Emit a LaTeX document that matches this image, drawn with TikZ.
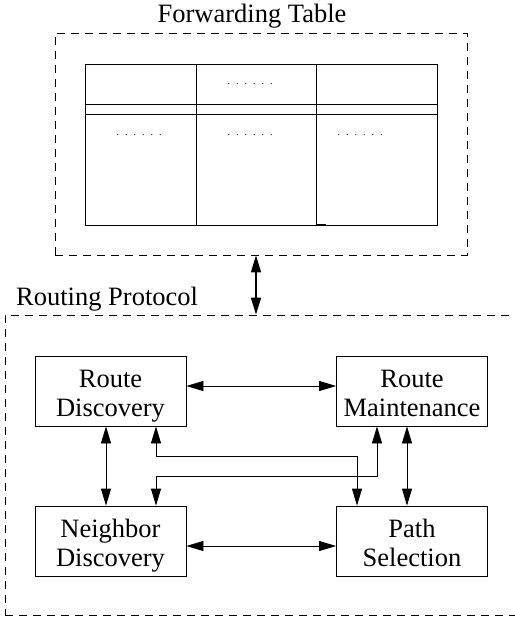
\documentclass[tikz,border=0pt]{standalone}
\usepackage{fontspec}
\setmainfont{Liberation Serif}
\usetikzlibrary{arrows.meta}
\newcommand\CellDots[3]{%
    \node[anchor=base] (#1) at (#2,#3) {\fontsize{10}{12}\selectfont .\kern6pt.\kern6pt.\kern6pt.\kern6pt.\kern6pt.};
}
% struts so that every box sets its two lines at the same height
\newcommand\TopLine{\rule{0pt}{26.8pt}}
\newcommand\LowLine{\rule[-5.8pt]{0pt}{5.8pt}}
\tikzset{
    block/.style={draw, line width=0.8pt, minimum width=151pt, minimum height=70pt,
        inner sep=0pt, align=center, font=\fontsize{26.5}{29}\selectfont},
    frame/.style={draw, line width=0.8pt, dash pattern=on 8pt off 6pt, inner sep=0pt},
    heading/.style={font=\fontsize{26.5}{29}\selectfont, inner sep=0pt},
    link/.style={line width=0.8pt, {Triangle[length=17pt,width=10pt]}-{Triangle[length=17pt,width=10pt]}}
}

\begin{document}
\begin{tikzpicture}[x=1pt,y=-1pt]
    \useasboundingbox (0,0) rectangle (514,621);
    % forwarding table
    \node[frame, minimum width=412pt, minimum height=222pt] (fwd) at (261,144) {};
    \node[heading, anchor=base] (fwdtitle) at (252,23) {Forwarding Table};
    \draw[line width=0.8pt] (85,64) rectangle (437,225);
    \foreach \x in {196,316}
        \draw[line width=0.8pt] (\x,64) -- (\x,225);
    \foreach \y in {104,114}
        \draw[line width=0.8pt] (85,\y) -- (437,\y);
    \draw[line width=1.2pt] (316,225) -- (326,225);
    \CellDots{dhead}{250}{84}
    \CellDots{dleft}{139}{135}
    \CellDots{dmid}{250}{135}
    \CellDots{dright}{360}{135}
    % routing protocol
    \node[frame, minimum width=529pt, minimum height=300pt] (rp) at (269.5,465) {};
    \node[heading, anchor=base west] (rptitle) at (16,305) {Routing Protocol};
    \draw[link, line width=1.6pt] ([xshift=-5pt]fwd.south) -- ([xshift=-5pt]fwd.south |- rp.north);
    \node[block] (rd) at (110.5,391) {\TopLine Route\\Discovery\LowLine};
    \node[block] (rm) at (412,391) {\TopLine Route\\Maintenance\LowLine};
    \node[block] (nd) at (110.5,541) {\TopLine Neighbor\\Discovery\LowLine};
    \node[block] (ps) at (412,541) {\TopLine Path\\Selection\LowLine};
    \draw[link] ([yshift=5pt]rd.east) -- ([yshift=5pt]rm.west);
    \draw[link] ([yshift=-5pt]nd.east) -- ([yshift=-5pt]ps.west);
    \draw[link] ([xshift=-4.5pt]rd.south) -- ([xshift=-4.5pt]nd.north);
    \draw[link] ([xshift=-5pt]rm.south) -- ([xshift=-5pt]ps.north);
    \draw[link] ([xshift=45.5pt]rd.south) -- ++(0,30) -| ([xshift=-55pt]ps.north);
    \draw[link] ([xshift=-35pt]rm.south) -- ++(0,50) -| ([xshift=45.5pt]nd.north);
\end{tikzpicture}
\end{document}
